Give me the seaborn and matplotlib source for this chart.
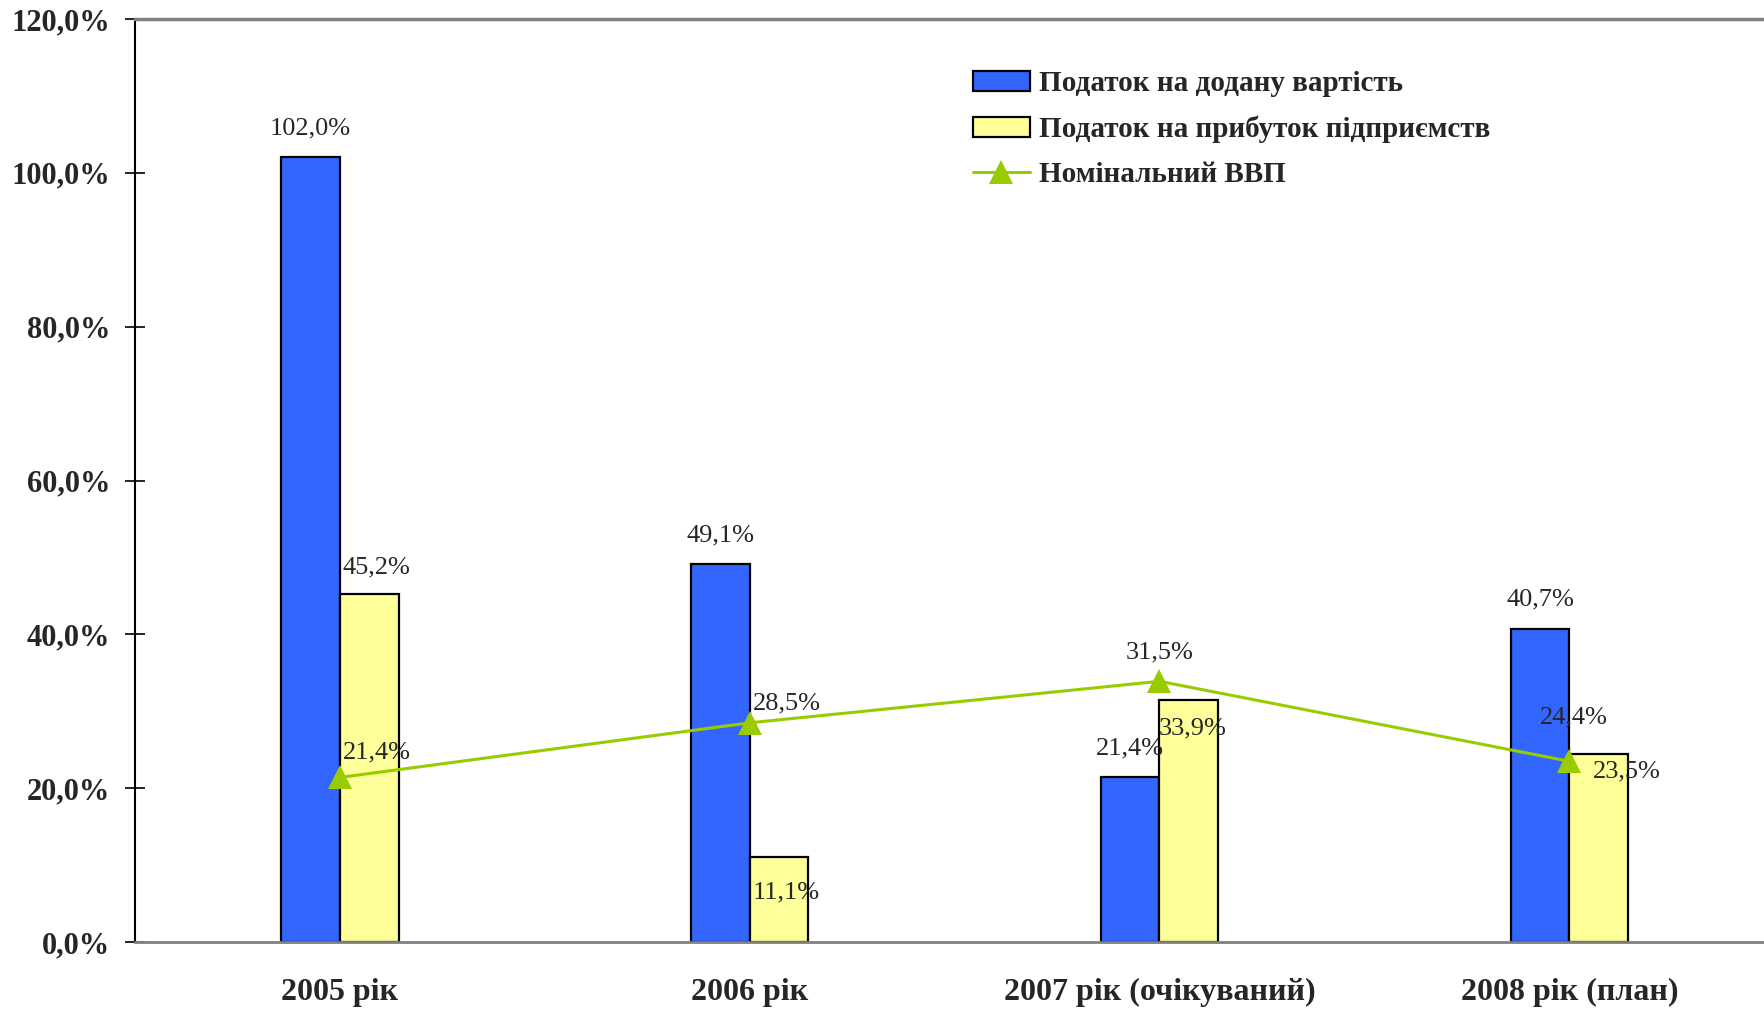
import pandas as pd
import seaborn as sns
import numpy as np
import matplotlib.pyplot as plt
from matplotlib.patches import Patch
from matplotlib.lines import Line2D

years = ['2005 рік', '2006 рік', '2007 рік (очікуваний)', '2008 рік (план)']
vat = [102.0, 49.1, 21.4, 40.7]           # Податок на додану вартість
profit_tax = [45.2, 11.1, 31.5, 24.4]     # Податок на прибуток підприємств
gdp = [21.4, 28.5, 33.9, 23.5]            # Номінальний ВВП
series_names = ['Податок на додану вартість', 'Податок на прибуток підприємств', 'Номінальний ВВП']
yticks = [0, 20, 40, 60, 80, 100, 120]
ytick_labels = ['0,0%', '20,0%', '40,0%', '60,0%', '80,0%', '100,0%', '120,0%']

# labels for the yellow bars and the line, as they sit in the original (some were moved by hand)
other_labels = ['45,2%', '21,4%', '28,5%', '11,1%', '31,5%', '33,9%', '24,4%', '23,5%']
other_x = [0.09, 0.09, 1.09, 1.09, 2.00, 2.08, 3.01, 3.14]
other_y = [48.7, 24.7, 31.0, 6.4, 37.6, 27.8, 29.2, 22.2]

blue = '#3366FF'
yellow = '#FFFF99'
green = '#99CC00'

df = pd.DataFrame({
    'year': years * 2,
    'value': vat + profit_tax,
    'series': [series_names[0]] * 4 + [series_names[1]] * 4,
})

sns.set_style('white')
plt.rcParams['font.family'] = ['Liberation Serif', 'DejaVu Serif']

fig = plt.figure(figsize=(17.65, 10.11), dpi=100)
ax = fig.add_axes([0.0765, 0.0682, 0.9287, 0.913])

sns.barplot(data=df, x='year', y='value', hue='series', order=years,
            palette=[blue, yellow], saturation=1, width=0.286, edgecolor='black',
            linewidth=1.6, errorbar=None, legend=False, ax=ax)
sns.lineplot(x=np.arange(len(years)), y=gdp, color=green, linewidth=2.2,
             marker='^', markersize=17, markeredgewidth=0, ax=ax)

bw = 0.286 / 2
for i, v in enumerate(vat):
    ax.annotate(f'{v:.1f}%'.replace('.', ','), (i - bw / 2, v), xytext=(0, 21),
                textcoords='offset points', ha='center', va='center', fontsize=19)
for t, x, y in zip(other_labels, other_x, other_y):
    ax.text(x, y, t, ha='center', va='center', fontsize=19)

ax.set_xlim(-0.5, 3.5)
ax.set_ylim(0, 120)
ax.set_yticks(yticks)
ax.set_yticklabels(ytick_labels, fontsize=22, fontweight='bold')
ax.set_xticks(np.arange(len(years)))
ax.set_xticklabels(years, fontsize=23, fontweight='bold')
ax.set_xticks([-0.5, 0.5, 1.5, 2.5], minor=True)
ax.tick_params(axis='x', which='major', length=0, pad=26)
ax.tick_params(axis='x', which='minor', direction='inout', length=14, width=1.2, color='#808080')
ax.tick_params(axis='y', direction='inout', length=14, width=1.2, color='black', pad=11, left=True)
ax.set_xlabel('')
ax.set_ylabel('')

ax.spines['right'].set_visible(False)
ax.spines['left'].set_color('black')
ax.spines['left'].set_linewidth(1.5)
ax.spines['bottom'].set_color('#808080')
ax.spines['bottom'].set_linewidth(2)
ax.spines['top'].set_color('#808080')
ax.spines['top'].set_linewidth(2.5)

handles = [Patch(facecolor=blue, edgecolor='black', linewidth=1.6),
           Patch(facecolor=yellow, edgecolor='black', linewidth=1.6),
           Line2D([], [], color=green, linewidth=2.2, marker='^', markersize=17, markeredgewidth=0)]
leg = ax.legend(handles, series_names, loc='upper left', bbox_to_anchor=(0.543, 0.945),
                bbox_transform=fig.transFigure, frameon=False, borderpad=0,
                handlelength=1.95, handletextpad=0.3, labelspacing=0.63,
                prop={'size': 21, 'weight': 'bold'})

plt.savefig('out.png', dpi=100)
